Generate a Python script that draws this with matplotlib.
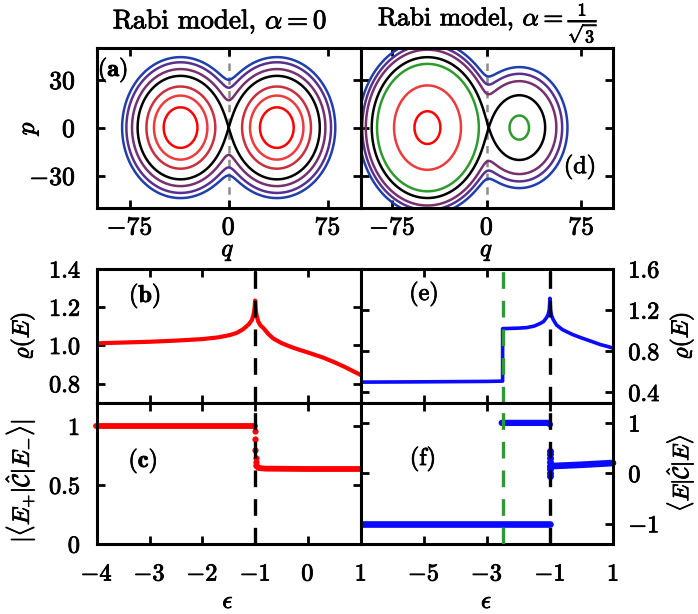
import numpy as np
import matplotlib
import matplotlib.pyplot as plt
import matplotlib.patheffects as pe

matplotlib.use('Agg')

plt.rcParams['font.family'] = 'serif'
plt.rcParams['font.serif'] = ['cmr10']
plt.rcParams['mathtext.fontset'] = 'cm'
plt.rcParams['axes.formatter.use_mathtext'] = True
plt.rcParams['axes.unicode_minus'] = True

# --- phase space (a), (d): lower energy surface of the classical model ---
omega_c = 161.3      # gap term
u_c = 1351.5         # coupling squared
beta_a = 0.0         # alpha = 0
beta_d = 10.5        # alpha = 1/sqrt(3)

levels_a = [-605, -485, -355, -161.3, -15, 150, 287]
colors_a = ['#ff0000', '#ee3b3b', '#c8303c', 'black', '#77306e', '#58308f', '#1f3fad']
levels_d_low = [-1072, -776, -330]
colors_d_low = ['#ff0000', '#ee3b3b', '#2e9a2e']
levels_d_high = [64, 208, 358]
colors_d_high = ['#77306e', '#58308f', '#1f3fad']

# --- (b) density of states, alpha = 0 ---
eps_b = [-4.0, -3.5, -3.0, -2.5, -2.0, -1.7, -1.48, -1.35, -1.23, -1.12, -1.06, -1.03,
         -1.01, -1.0, -0.99, -0.97, -0.94, -0.9, -0.84, -0.75, -0.66, -0.5, -0.3,
         -0.15, 0.0, 0.3, 0.5, 0.7, 0.85, 1.0]
rho_b = [1.011, 1.015, 1.019, 1.025, 1.033, 1.042, 1.054, 1.065, 1.084, 1.11, 1.133, 1.16,
         1.195, 1.235, 1.19, 1.155, 1.125, 1.105, 1.09, 1.06, 1.037, 1.012, 0.99,
         0.976, 0.963, 0.935, 0.912, 0.887, 0.866, 0.845]

# --- (e) density of states, alpha = 1/sqrt(3) ---
eps_e = [-7.0, -5.0, -3.0, -2.5, -2.5, -2.0, -1.74, -1.5, -1.31, -1.2, -1.1, -1.05,
         -1.02, -1.0, -0.98, -0.95, -0.9, -0.79, -0.6, -0.4, -0.26, 0.0, 0.375, 0.6,
         0.85, 1.0]
rho_e = [0.50, 0.503, 0.507, 0.51, 1.02, 1.025, 1.03, 1.045, 1.07, 1.09, 1.13, 1.165,
         1.205, 1.315, 1.2, 1.15, 1.11, 1.055, 1.01, 0.98, 0.96, 0.93, 0.89, 0.865,
         0.845, 0.83]

# --- (c) |<E+|C|E->| ---
c_up_eps = [-4.02, -1.0]
c_up = [1.0, 1.0]
c_jump_eps = [-1.0, -1.0, -1.0, -0.99, -0.985, -0.98]
c_jump = [0.96, 0.89, 0.80, 0.73, 0.70, 0.67]
c_low_eps = [-0.975, -0.93, -0.8, 0.0, 1.02]
c_low = [0.66, 0.645, 0.64, 0.637, 0.637]

# --- (f) <E|C|E> ---
f_minus_eps = [-7.0, -1.0]
f_minus = [-1.0, -1.0]
f_plus_eps = [-2.53, -1.05, -1.0]
f_plus = [1.0, 1.0, 0.97]
f_jump_eps = [-1.0, -1.0, -1.0, -1.0, -1.0, -1.0, -1.0, -0.99]
f_jump = [0.45, 0.38, 0.30, 0.22, 0.15, 0.08, 0.0, -0.06]
f_right_eps = [-0.98, -0.9, 0.0, 1.0]
f_right = [0.13, 0.145, 0.17, 0.205]

eps_esqpt = -1.0
eps_green = -2.5

W, H = 698, 614
fig = plt.figure(figsize=(W / 100, H / 100), dpi=100)


def add_ax(l, t, r, b):
    return fig.add_axes([l / W, 1 - b / H, (r - l) / W, (b - t) / H])


XL, XM, XR = 96.7, 360.7, 613
YT0, YT1 = 47.7, 207.5
YM0, YM1, YB1 = 269, 402.7, 544

ax_a = add_ax(XL, YT0, XM, YT1)
ax_b = add_ax(XL, YM0, XM, YM1)
ax_c = add_ax(XL, YM1, XM, YB1)
ax_d = add_ax(XM, YT0, XR, YT1)
ax_e = add_ax(XM, YM0, XR, YM1)
ax_f = add_ax(XM, YM1, XR, YB1)


def energy(q, p, beta):
    return (q ** 2 + p ** 2) / 2 - np.sqrt(omega_c ** 2 + u_c * q ** 2) + beta * q


qg = np.linspace(-105, 105, 1051)
pg = np.linspace(-56, 56, 561)
Q, P = np.meshgrid(qg, pg)

lw_c = 1.8
ax_a.axvline(0, color='#8c8c8c', lw=1.8, dashes=(3, 2.5), zorder=1)
ax_a.contour(Q, P, energy(Q, P, beta_a), levels=levels_a, colors=colors_a,
             linewidths=lw_c, linestyles='solid')

ax_d.axvline(0, color='#8c8c8c', lw=1.8, dashes=(3, 2.5), zorder=1)
Ed = energy(Q, P, beta_d)
qs = np.linspace(-20, 20, 8001)
sep_d = energy(qs, 0, beta_d).max()
ax_d.contour(Q, P, Ed, levels=levels_d_low, colors=colors_d_low, linewidths=lw_c,
             linestyles='solid')
ax_d.contour(Q, P, Ed, levels=[sep_d], colors=['black'], linewidths=lw_c, linestyles='solid')
ax_d.contour(Q, P, Ed, levels=levels_d_high, colors=colors_d_high, linewidths=lw_c,
             linestyles='solid')

for ax in (ax_a, ax_d):
    ax.set_xlim(-100, 100)
    ax.set_ylim(-50, 50)
    ax.set_xticks([-75, 0, 75])
    ax.set_yticks([-30, 0, 30])

# middle panels
ax_b.plot(eps_b, rho_b, color='#ff0000', lw=3)
ax_b.set_xlim(-4, 1)
ax_b.set_ylim(0.7, 1.4)
ax_b.set_yticks([0.8, 1.0, 1.2, 1.4])
ax_b.set_yticklabels(['0.8', '1.0', '1.2', '1.4'])

ax_e.plot(eps_e, rho_e, color='#0a0aff', lw=2.6)
ax_e.set_xlim(-7, 1)
ax_e.set_ylim(0.3, 1.6)
ax_e.set_yticks([0.4, 0.8, 1.2, 1.6])
ax_e.set_yticklabels(['0.4', '0.8', '1.2', '1.6'])

# bottom panels
ax_c.plot(c_up_eps, c_up, color='#ff0000', lw=4.2, solid_capstyle='round', clip_on=False)
ax_c.plot(c_low_eps, c_low, color='#ff0000', lw=4.2, solid_capstyle='round', clip_on=False)
ax_c.plot(c_jump_eps, c_jump, 'o', color='#ff0000', ms=4.5, mew=0)
ax_c.set_xlim(-4, 1)
ax_c.set_ylim(0, 1.2)
ax_c.set_yticks([0, 0.5, 1])
ax_c.set_yticklabels(['0', '0.5', '1'])
ax_c.set_xticks([-4, -3, -2, -1, 0, 1])

ax_f.plot(f_minus_eps, f_minus, color='#0a0aff', lw=4.8, solid_capstyle='round')
ax_f.plot(f_plus_eps, f_plus, color='#0a0aff', lw=4.5, solid_capstyle='round')
ax_f.plot(f_right_eps, f_right, color='#0a0aff', lw=4.8, solid_capstyle='round', clip_on=False)
ax_f.plot(f_jump_eps, f_jump, 'o', color='#0a0aff', ms=5, mew=0)
ax_f.set_xlim(-7, 1)
ax_f.set_ylim(-1.4, 1.4)
ax_f.set_yticks([-1, 0, 1])
ax_f.set_yticklabels([r'$-1$', '0', '1'])
ax_f.set_xticks([-7, -5, -3, -1, 1])
ax_f.set_xticklabels(['', r'$-5$', r'$-3$', r'$-1$', '1'])

ax_b.set_xticks([-4, -3, -2, -1, 0, 1])
ax_e.set_xticks([-7, -5, -3, -1, 1])

for ax in (ax_b, ax_c, ax_e, ax_f):
    ax.axvline(eps_esqpt, color='black', lw=2.4, dashes=(5, 3.6), zorder=3)
for ax in (ax_e, ax_f):
    ax.axvline(eps_green, color='#2e9a2e', lw=2.4, dashes=(5, 3.6), zorder=3)

# styling
for ax in (ax_a, ax_b, ax_c, ax_d, ax_e, ax_f):
    for s in ax.spines.values():
        s.set_linewidth(2.2)
    ax.tick_params(direction='in', length=5.5, width=2, top=True, right=True,
                   bottom=True, left=True)

fs_top = 18.5
fs_tick = 17.5
fs_lab = 17

ax_a.tick_params(labelsize=fs_top, pad=6)
ax_a.tick_params(axis='y', pad=15)
ax_d.tick_params(labelsize=fs_top, pad=6, labelleft=False)

ax_b.tick_params(labelsize=fs_tick, labelbottom=False)
ax_b.tick_params(axis='y', pad=12)
ax_c.tick_params(labelsize=fs_tick)
ax_c.tick_params(axis='y', pad=12)
ax_c.tick_params(axis='x', pad=14)

ax_e.tick_params(labelsize=fs_tick, labelbottom=False, labelleft=False, labelright=True)
ax_e.tick_params(axis='y', pad=11)
ax_f.tick_params(labelsize=fs_tick, labelleft=False, labelright=True)
ax_f.tick_params(axis='y', pad=11)
ax_f.tick_params(axis='x', pad=14)

# labels
ax_a.set_xlabel(r'$q$', fontsize=18)
ax_d.set_xlabel(r'$q$', fontsize=18)
ax_a.xaxis.set_label_coords((228 - XL) / (XM - XL), (YT1 - 241) / (YT1 - YT0))
ax_d.xaxis.set_label_coords((486.7 - XM) / (XR - XM), (YT1 - 241) / (YT1 - YT0))
ax_a.set_ylabel(r'$p$', fontsize=18)
ax_a.yaxis.set_label_coords((41 - XL) / (XM - XL), 0.5)

ax_b.set_ylabel(r'$\varrho(E)$', fontsize=fs_lab)
ax_b.yaxis.set_label_coords((37 - XL) / (XM - XL), 0.5)
ax_e.set_ylabel(r'$\varrho(E)$', fontsize=fs_lab)
ax_e.yaxis.set_label_position('right')
ax_e.yaxis.set_label_coords((667 - XM) / (XR - XM), 0.5)

ax_c.set_ylabel(r'$|\langle E_{+}|\hat{\mathcal{C}}|E_{-}\rangle|$', fontsize=fs_lab)
ax_c.yaxis.set_label_coords((37 - XL) / (XM - XL), (YB1 - 481) / (YB1 - YM1))
ax_f.set_ylabel(r'$\langle E|\hat{\mathcal{C}}|E\rangle$', fontsize=16)
ax_f.yaxis.set_label_position('right')
ax_f.yaxis.set_label_coords((664 - XM) / (XR - XM), (YB1 - 473) / (YB1 - YM1))

ax_c.set_xlabel(r'$\epsilon$', fontsize=18)
ax_f.set_xlabel(r'$\epsilon$', fontsize=18)
ax_c.xaxis.set_label_coords((228 - XL) / (XM - XL), (YB1 - 591) / (YB1 - YM1))
ax_f.xaxis.set_label_coords((486.7 - XM) / (XR - XM), (YB1 - 591) / (YB1 - YM1))

# panel tags
fs_tag = 17.5
fig.text(113 / W, 1 - 70 / H, r'$\mathbf{(a)}$', fontsize=fs_tag, ha='center', va='center')
fig.text(145 / W, 1 - 296 / H, r'$\mathbf{(b)}$', fontsize=fs_tag, ha='center', va='center')
fig.text(143 / W, 1 - 461 / H, r'$\mathbf{(c)}$', fontsize=fs_tag, ha='center', va='center')
fig.text(580 / W, 1 - 167 / H, '(d)', fontsize=fs_tag, ha='center', va='center')
fig.text(424 / W, 1 - 294 / H, '(e)', fontsize=fs_tag, ha='center', va='center')
fig.text(423 / W, 1 - 459 / H, '(f)', fontsize=fs_tag, ha='center', va='center')

# titles
fig.text(220 / W, 1 - 22 / H, r'Rabi model, $\alpha=0$', fontsize=19.5, ha='center', va='center')
fig.text(488 / W, 1 - 45 / H, r'Rabi model, $\alpha=\frac{1}{\sqrt{3}}$', fontsize=18.5,
         ha='center', va='bottom')

# the printed figure has heavier strokes than plain cmr10
for t in fig.findobj(matplotlib.text.Text):
    t.set_path_effects([pe.withStroke(linewidth=0.6, foreground='black')])

fig.savefig('out.png', dpi=100)
